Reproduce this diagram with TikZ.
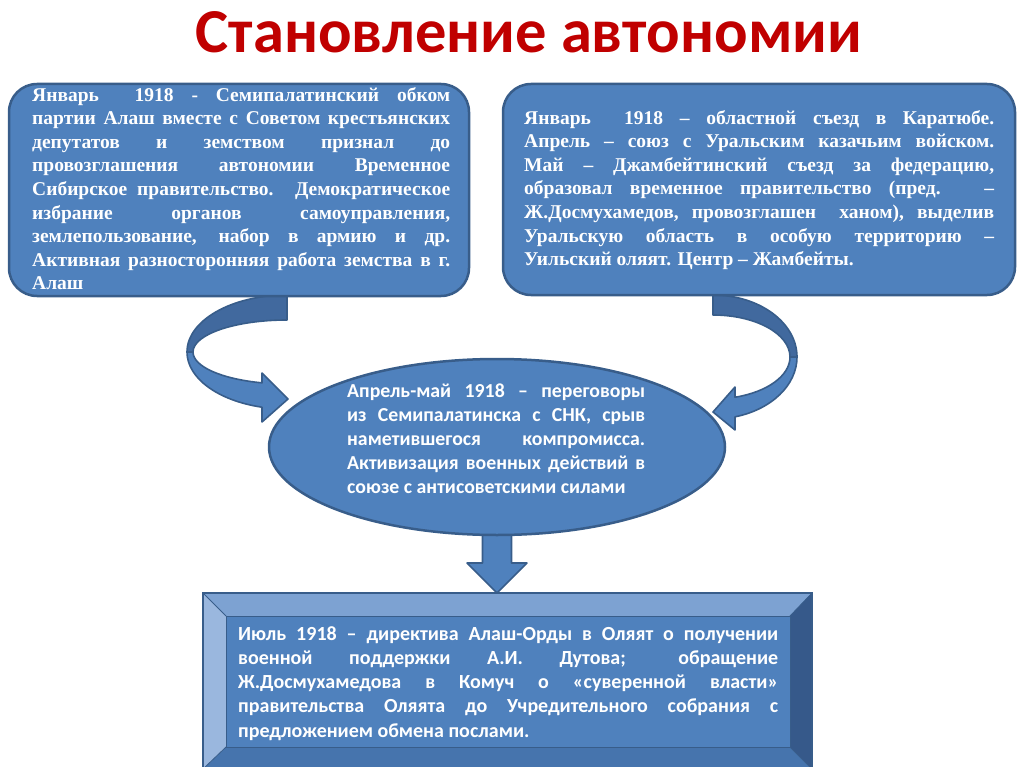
\documentclass[tikz,border=0pt]{standalone}
\usepackage{fontspec}
\setmainfont{Liberation Serif}
\newfontfamily\calfont{Carlito}
\usetikzlibrary{calc,shapes.geometric}
\definecolor{face}{HTML}{4F81BD}
\definecolor{edge}{HTML}{385D8A}
\definecolor{backc}{HTML}{41699E}
\definecolor{titlec}{RGB}{192,0,0}
\definecolor{bevtop}{HTML}{7DA2D2}
\definecolor{bevleft}{HTML}{9AB7DE}
\definecolor{bevright}{HTML}{36598A}
\definecolor{bevbot}{HTML}{4674AD}
\tolerance=10000
\hbadness=10000
\hfuzz=20pt
\pgfdeclarelayer{bg}
\pgfsetlayers{bg,main}
\begin{document}
\begin{tikzpicture}[x=1pt,y=-1pt,
  roundbox/.style={rectangle,draw=edge,line width=2.5pt,fill=face,rounded corners=28pt,outer sep=0pt,inner sep=0pt},
  ovalbox/.style={ellipse,draw=edge,line width=2.5pt,fill=face,outer sep=0pt,inner sep=0pt},
  framebox/.style={rectangle,draw=edge,line width=1.2pt,fill=face,outer sep=0pt,inner sep=0pt},
  bevel/.style={draw=edge,line width=0.8pt},
  arrowfront/.style={fill=face,draw=edge,line width=1.6pt,line join=round},
  arrowback/.style={fill=backc,draw=edge,line width=1.6pt,line join=round},
  serift/.style={text=white,inner sep=0pt,anchor=north west,align=justify,
     font=\bfseries\fontsize{19.5}{23.6}\selectfont},
  sanst/.style={text=white,inner sep=0pt,anchor=north west,align=justify,
     font=\calfont\bfseries\fontsize{19.8}{24}\selectfont},
  titlet/.style={text=titlec,inner sep=0pt,font=\calfont\bfseries\fontsize{62.5}{62.5}\selectfont}
]
\useasboundingbox (0,0) rectangle (1024,767);

% title
\node[titlet] (T) at (529,32) {Становление автономии};

% boxes
\node[roundbox,anchor=north west,minimum width=460,minimum height=212] (L) at (9,84) {};
\node[roundbox,anchor=north west,minimum width=512,minimum height=211] (R) at (503,84) {};
\node[ovalbox,minimum width=456,minimum height=176] (E) at (497,447) {};
\node[framebox,anchor=north west,minimum width=609,minimum height=176] (B) at (203,593) {};

% bevels of the bottom frame
\coordinate (o1) at (B.north west);
\coordinate (o2) at (B.north east);
\coordinate (o3) at (B.south east);
\coordinate (o4) at (B.south west);
\coordinate (i1) at ($(B.north west)+(23,23)$);
\coordinate (i2) at ($(B.north east)+(-22,23)$);
\coordinate (i3) at ($(B.south east)+(-22,-22)$);
\coordinate (i4) at ($(B.south west)+(23,-22)$);
\fill[bevtop] (o1) -- (o2) -- (i2) -- (i1) -- cycle;
\fill[bevright] (o2) -- (o3) -- (i3) -- (i2) -- cycle;
\fill[bevbot] (o3) -- (o4) -- (i4) -- (i3) -- cycle;
\fill[bevleft] (o4) -- (o1) -- (i1) -- (i4) -- cycle;
\draw[bevel] (i1) rectangle (i3);
\draw[bevel] (o1) -- (i1) (o2) -- (i2) (o3) -- (i3) (o4) -- (i4);
\draw[edge,line width=1.5pt] (o1) rectangle (o3);

% texts
\node[serift,text width=418] (Lt) at (32,87) {Январь\ \ 1918 - Семипалатинский обком\linebreak
партии Алаш вместе с Советом крестьянских\linebreak
депутатов и земством признал до\linebreak
провозглашения автономии Временное\linebreak
Сибирское правительство. Демократическое\linebreak
избрание органов самоуправления,\linebreak
землепользование, набор в армию и др.\linebreak
Активная разносторонняя работа земства в г.\linebreak
Алаш};

\node[serift,text width=470] (Rt) at (524,110) {Январь\ \ 1918 – областной съезд в Каратюбе.\linebreak
Апрель – союз с Уральским казачьим войском.\linebreak
Май – Джамбейтинский съезд за федерацию,\linebreak
образовал временное правительство (пред. –\linebreak
Ж.Досмухамедов, провозглашен\ \ ханом), выделив\linebreak
Уральскую область в особую территорию –\linebreak
Уильский оляят. Центр – Жамбейты.};

\node[sanst,text width=298] (Et) at (347,384) {Апрель-май 1918 – переговоры\linebreak
из Семипалатинска с СНК, срыв\linebreak
наметившегося компромисса.\linebreak
Активизация военных действий в\linebreak
союзе с антисоветскими силами};

\node[sanst,text width=540,font=\calfont\bfseries\fontsize{20}{24.25}\selectfont] (Bt) at (238,626) {Июль 1918 – директива Алаш-Орды в Оляят о получении\linebreak
военной поддержки А.И. Дутова; обращение\linebreak
Ж.Досмухамедова в Комуч о «суверенной власти»\linebreak
правительства Оляята до Учредительного собрания с\linebreak
предложением обмена послами.};

% connectors (behind the shapes)
\begin{pgfonlayer}{bg}
\coordinate (lc) at (287,352);
\coordinate (rc) at (713,357);
% left curved arrow: from L to E
\draw[arrowback] ($(lc)+(270:100 and 57)$) arc[start angle=270,end angle=180,x radius=100,y radius=57]
  -- ($(lc)+(180:94 and 32)$) arc[start angle=180,end angle=270,x radius=94,y radius=32] -- cycle;
\draw[arrowfront] ($(lc)+(180:100 and 57)$) arc[start angle=180,end angle=104.5,x radius=100,y radius=57]
  -- ($(lc)+(-25,70)$) -- ($(lc)+(1,47)$) -- ($(lc)+(-25,21)$)
  -- ($(lc)+(105.4:94 and 32)$) arc[start angle=105.4,end angle=180,x radius=94,y radius=32] -- cycle;
% right curved arrow: from R to E
\draw[arrowback] ($(rc)+(270:84 and 62)$) arc[start angle=270,end angle=360,x radius=84,y radius=62]
  -- ($(rc)+(0:77 and 42)$) arc[start angle=360,end angle=270,x radius=77,y radius=42] -- cycle;
\draw[arrowfront] ($(rc)+(0:84 and 62)$) arc[start angle=0,end angle=74.8,x radius=84,y radius=62]
  -- ($(rc)+(22,73)$) -- ($(rc)+(0,55)$) -- ($(rc)+(22,30)$)
  -- ($(rc)+(73.4:77 and 42)$) arc[start angle=73.4,end angle=0,x radius=77,y radius=42] -- cycle;
% down arrow: from E to B
\coordinate (dtip) at (E.south |- B.north);
\draw[arrowfront] ($(E.south)+(-14.5,-10)$) -- ($(dtip)+(-14.5,-30)$) -- ($(dtip)+(-30,-30)$)
  -- (dtip) -- ($(dtip)+(30,-30)$) -- ($(dtip)+(14.5,-30)$) -- ($(E.south)+(14.5,-10)$) -- cycle;
\end{pgfonlayer}
\end{tikzpicture}
\end{document}
